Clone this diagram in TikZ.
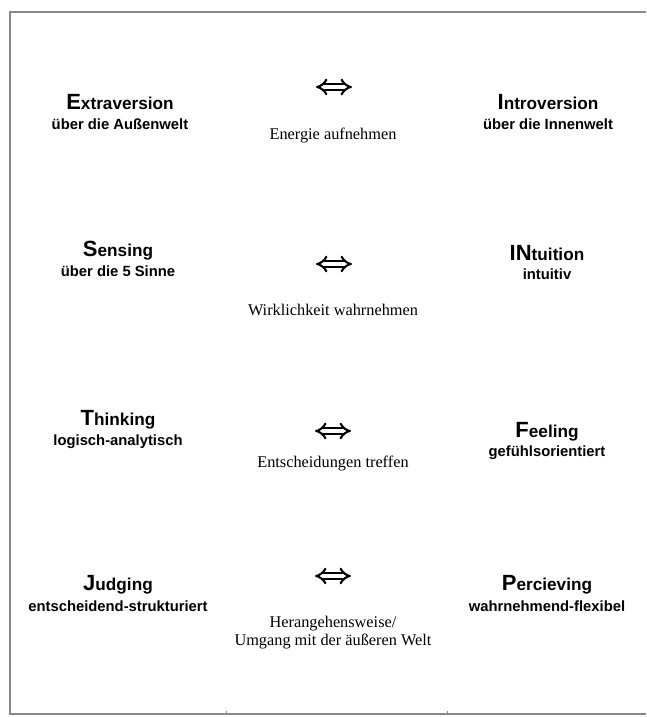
\documentclass[tikz,border=0pt]{standalone}
\usepackage{fontspec}
\setmainfont{Liberation Serif}
\setsansfont{Liberation Sans}
\usetikzlibrary{arrows.meta}
\definecolor{framegrey}{HTML}{888888}
\newcommand{\bigfirst}[2]{{\fontsize{22}{24}\selectfont\bfseries #1}#2}
\tikzset{
  x=1pt, y=-1pt,
  head/.style={font=\fontsize{17.2}{19}\selectfont\sffamily\bfseries, inner sep=0pt, anchor=base},
  sub/.style={font=\fontsize{14.8}{16}\selectfont\sffamily\bfseries, inner sep=0pt, anchor=base},
  mid/.style={font=\rmfamily\fontsize{16.3}{18}\selectfont, inner sep=0pt, anchor=base},
  dblarrow/.style={double, double distance=3.4pt, line width=2.1pt, {Implies[length=7pt]}-{Implies[length=7pt]}},
  frame/.style={draw=framegrey, line width=2pt}
}
\begin{document}
\begin{tikzpicture}
\useasboundingbox (0,0) rectangle (646,717);
% outer frame of the table, open on the right
\draw[frame] (646,12) -- (9.5,12) -- (9.5,714) -- (646,714);
\draw[framegrey, line width=1pt] (226,714) -- (226,711) (447,714) -- (447,711);

% row 1
\node[head] (e) at (120,109) {\bigfirst{E}{xtraversion}};
\node[sub] (es) at (120,129) {über die Außenwelt};
\node[head] (i) at (548,109) {\bigfirst{I}{ntroversion}};
\node[sub] (is) at (548,129) {über die Innenwelt};
\coordinate (a1l) at (316,87);
\coordinate (a1r) at (352,87);
\draw[dblarrow] (a1l) -- (a1r);
\node[mid] (m1) at (333,139) {Energie aufnehmen};

% row 2
\node[head] (s) at (118,256) {\bigfirst{S}{ensing}};
\node[sub] (ss) at (118,276) {über die 5 Sinne};
\node[head] (n) at (547,260) {\bigfirst{I}{}\bigfirst{N}{tuition}};
\node[sub] (ns) at (547,279) {intuitiv};
\coordinate (a2l) at (316,264);
\coordinate (a2r) at (352,264);
\draw[dblarrow] (a2l) -- (a2r);
\node[mid] (m2) at (333,315) {Wirklichkeit wahrnehmen};

% row 3
\node[head] (t) at (118,425) {\bigfirst{T}{hinking}};
\node[sub] (ts) at (118,445) {logisch-analytisch};
\node[head] (f) at (547,437) {\bigfirst{F}{eeling}};
\node[sub] (fs) at (547,456) {gefühlsorientiert};
\coordinate (a3l) at (315,431);
\coordinate (a3r) at (351,431);
\draw[dblarrow] (a3l) -- (a3r);
\node[mid] (m3) at (333,467) {Entscheidungen treffen};

% row 4
\node[head] (j) at (118,590) {\bigfirst{J}{udging}};
\node[sub] (js) at (118,611) {entscheidend-strukturiert};
\node[head] (p) at (547,590) {\bigfirst{P}{ercieving}};
\node[sub] (ps) at (547,611) {wahrnehmend-flexibel};
\coordinate (a4l) at (315,576);
\coordinate (a4r) at (351,576);
\draw[dblarrow] (a4l) -- (a4r);
\node[mid] (m4a) at (333,627) {Herangehensweise/};
\node[mid] (m4b) at (333,645) {Umgang mit der äußeren Welt};
\end{tikzpicture}
\end{document}
